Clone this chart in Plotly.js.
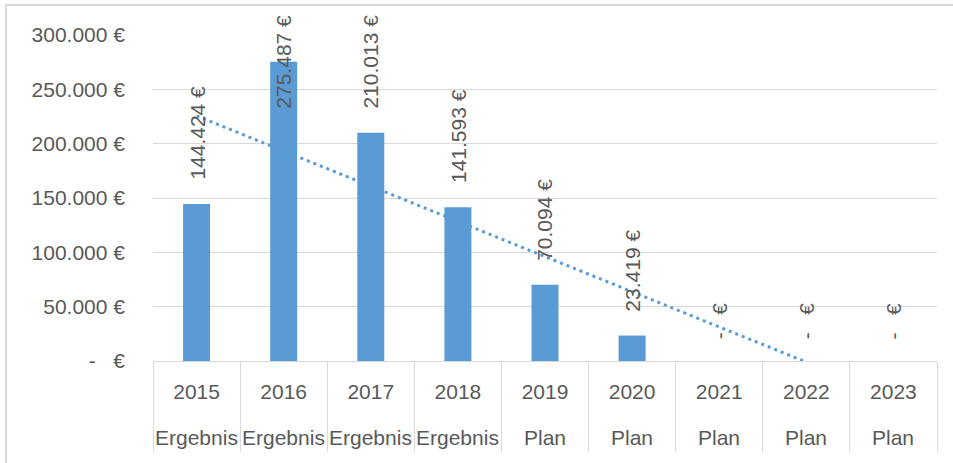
<!DOCTYPE html>
<html>
<head>
<meta charset="utf-8">
<script src="https://cdn.plot.ly/plotly-3.0.1.min.js"></script>
<style>html,body{margin:0;padding:0;background:#fff;}#chart{width:953px;height:463px;}</style>
</head>
<body>
<div id="chart"></div>
<script>
const years = ['2015', '2016', '2017', '2018', '2019', '2020', '2021', '2022', '2023'];
const kinds = ['Ergebnis', 'Ergebnis', 'Ergebnis', 'Ergebnis', 'Plan', 'Plan', 'Plan', 'Plan', 'Plan'];
const values = [144424, 275487, 210013, 141593, 70094, 23419, 0, 0, 0];
const yTickVals = [0, 50000, 100000, 150000, 200000, 250000, 300000];
const yTickText = ['-\u00a0\u00a0\u00a0€', '50.000 €', '100.000 €', '150.000 €', '200.000 €', '250.000 €', '300.000 €'];

const NB = '\u00a0';
function fmt(v) {
  if (v === 0) return '-' + NB + NB + NB + '€';
  return String(v).replace(/\B(?=(\d{3})+(?!\d))/g, '.') + ' €';
}

// linear trendline (least squares over category index)
const n = values.length;
const idx = values.map((_, i) => i);
const mx = idx.reduce((a, b) => a + b, 0) / n;
const my = values.reduce((a, b) => a + b, 0) / n;
let sxy = 0, sxx = 0;
for (let i = 0; i < n; i++) { sxy += (i - mx) * (values[i] - my); sxx += (i - mx) * (i - mx); }
const slope = sxy / sxx;
const trend = idx.map(i => my + slope * (i - mx));

const txtColor = '#595959';
const fam = 'Liberation Sans, Arial, sans-serif';
const gridCol = '#D9D9D9';
const FS = 21;
const W = 953, H = 463;
const M = {l: 153, r: 16, t: 35, b: 102};
const plotH = H - M.t - M.b;
const yMax = 300000;
const LABEL_GAP = 22;   // px between bar top and label
const ZERO_GAP = 20;    // px between baseline and label of empty bars
const TOP_LIMIT = 13;   // px from page top: labels are kept below this

// measure label length to keep labels inside chart area (like Excel)
const cv = document.createElement('canvas').getContext('2d');
cv.font = FS + 'px "Liberation Sans", Arial, sans-serif';

const labelAnns = values.map((v, i) => {
  const t = fmt(v);
  const len = cv.measureText(t).width + 4;
  const gap = v === 0 ? ZERO_GAP : LABEL_GAP;
  const bottomPx = M.t + plotH - v / yMax * plotH - gap;
  const base = {
    x: i, xref: 'x', text: t, showarrow: false, textangle: -90,
    xanchor: 'center', font: {family: fam, size: FS, color: txtColor}
  };
  if (bottomPx - len < TOP_LIMIT) {
    return Object.assign(base, {yref: 'paper', y: (M.t + plotH - TOP_LIMIT) / plotH, yanchor: 'top'});
  }
  return Object.assign(base, {yref: 'y', y: v, yanchor: 'bottom', yshift: gap});
});

const traces = [
  {
    type: 'scatter', mode: 'lines', x: years, y: trend,
    xaxis: 'x', yaxis: 'y',
    line: {color: '#5B9BD5', width: 3, dash: '3px,4px'},
    hoverinfo: 'skip', showlegend: false
  },
  {
    type: 'bar', x: years, y: values,
    xaxis: 'x2', yaxis: 'y2',
    marker: {color: '#5B9BD5'},
    hoverinfo: 'skip', showlegend: false
  }
];

const rowAnns = kinds.map((k, i) => ({
  x: i, y: -0.236, xref: 'x', yref: 'paper',
  text: k, showarrow: false, yanchor: 'middle', xanchor: 'center',
  font: {family: fam, size: FS, color: txtColor}
}));

const layout = {
  width: W, height: H,
  margin: M,
  paper_bgcolor: '#fff', plot_bgcolor: '#fff',
  font: {family: fam, size: FS, color: txtColor},
  showlegend: false,
  bargap: 0.69,
  xaxis: {
    type: 'category', range: [-0.5, 8.5],
    showgrid: false, showline: true, linecolor: gridCol, linewidth: 1,
    ticks: 'outside', tickson: 'boundaries', ticklen: 90, tickcolor: gridCol, tickwidth: 1,
    tickfont: {family: fam, size: FS, color: txtColor},
    ticklabelstandoff: 12, fixedrange: true
  },
  yaxis: {
    range: [0, yMax], tickvals: yTickVals, ticktext: yTickText,
    showgrid: true, gridcolor: gridCol, gridwidth: 1, zeroline: false, showline: false,
    tickfont: {family: fam, size: FS, color: txtColor},
    ticklabelstandoff: 27, fixedrange: true
  },
  xaxis2: {overlaying: 'x', anchor: 'y2', type: 'category', range: [-0.5, 8.5], visible: false, fixedrange: true},
  yaxis2: {overlaying: 'y', anchor: 'x2', range: [0, yMax], visible: false, fixedrange: true},
  annotations: rowAnns.concat(labelAnns),
  shapes: [{
    type: 'rect', xref: 'paper', yref: 'paper',
    x0: -0.1875, x1: 1.2, y0: -0.6, y1: 1.092,
    line: {color: gridCol, width: 2}, layer: 'below'
  }]
};

Plotly.newPlot('chart', traces, layout, {displayModeBar: false, staticPlot: true});
</script>
</body>
</html>
